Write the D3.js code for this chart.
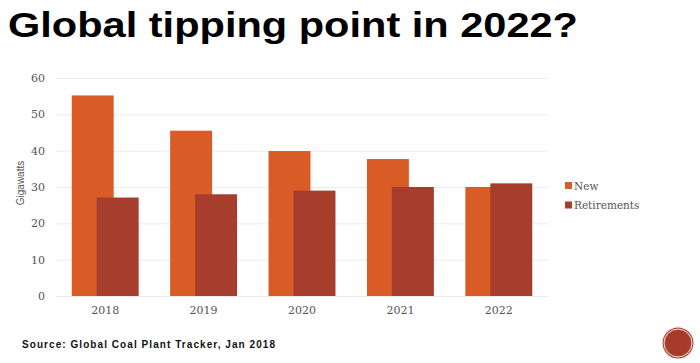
<!DOCTYPE html>
<html>
<head>
<meta charset="utf-8">
<script src="https://cdn.jsdelivr.net/npm/d3@7"></script>
<style>
  body { margin: 0; background: #fff; }
  svg { display: block; }
</style>
</head>
<body>
<svg id="chart" width="700" height="363"></svg>
<script>
var years = ["2018", "2019", "2020", "2021", "2022"];
var newGW = [55.2, 45.5, 39.9, 37.7, 30];
var retiredGW = [27.1, 28, 29, 30, 31];
var seriesNames = ["New", "Retirements"];
var seriesColors = ["#d95c27", "#a63d2d"];
var yTicks = [0, 10, 20, 30, 40, 50, 60];

var svg = d3.select("#chart"),
  margin = { top: 78, right: 152, bottom: 67, left: 56 },
  width = +svg.attr("width") - margin.left - margin.right,
  height = +svg.attr("height") - margin.top - margin.bottom;

var x0 = d3.scaleBand().domain(years).range([0, width]).paddingInner(0.32).paddingOuter(0.16),
  y = d3.scaleLinear().domain([0, 60]).range([height, 0]);

var barW = x0.bandwidth() * 42 / 67;

// title
var title = svg.append("text")
  .attr("x", 8)
  .attr("y", 37)
  .attr("font-family", "'Liberation Sans', Arial, sans-serif")
  .attr("font-weight", "bold")
  .attr("font-size", 35)
  .attr("fill", "#000")
  .text("Global tipping point in 2022?");
title.attr("textLength", 570).attr("lengthAdjust", "spacingAndGlyphs");

var g = svg.append("g")
  .attr("transform", "translate(" + margin.left + "," + margin.top + ")");

// grid
g.append("g")
  .call(d3.axisLeft(y).tickValues(yTicks).tickSize(-width).tickFormat(""))
  .call(function (s) { s.select(".domain").remove(); })
  .selectAll("line").attr("stroke", "#ececec");

// y labels
g.append("g")
  .call(d3.axisLeft(y).tickValues(yTicks).tickSize(0).tickPadding(11))
  .call(function (s) { s.select(".domain").remove(); })
  .selectAll("text")
  .attr("font-family", "'DejaVu Serif', serif")
  .attr("font-size", 11)
  .attr("fill", "#555");

g.append("text")
  .attr("transform", "translate(" + (-32) + "," + (height / 2 - 4) + ") rotate(-90)")
  .attr("text-anchor", "middle")
  .attr("font-family", "'Liberation Sans', Arial, sans-serif")
  .attr("font-size", 10)
  .attr("fill", "#555")
  .text("Gigawatts");

// x labels
g.append("g")
  .attr("transform", "translate(0," + height + ")")
  .call(d3.axisBottom(x0).tickSize(0).tickPadding(10))
  .call(function (s) { s.select(".domain").remove(); })
  .selectAll("text")
  .attr("font-family", "'DejaVu Serif', serif")
  .attr("font-size", 11)
  .attr("fill", "#555");

// bars
g.selectAll(".bar-new")
  .data(years)
  .enter().append("rect")
  .attr("class", "bar-new")
  .attr("x", function (d) { return x0(d); })
  .attr("y", function (d, i) { return y(newGW[i]); })
  .attr("width", barW)
  .attr("height", function (d, i) { return height - y(newGW[i]); })
  .attr("fill", seriesColors[0]);

g.selectAll(".bar-ret")
  .data(years)
  .enter().append("rect")
  .attr("class", "bar-ret")
  .attr("x", function (d) { return x0(d) + x0.bandwidth() - barW; })
  .attr("y", function (d, i) { return y(retiredGW[i]); })
  .attr("width", barW)
  .attr("height", function (d, i) { return height - y(retiredGW[i]); })
  .attr("fill", seriesColors[1]);

// legend
var legend = svg.append("g").attr("transform", "translate(565,182)");
seriesNames.forEach(function (name, i) {
  var row = legend.append("g").attr("transform", "translate(0," + (i * 19.5) + ")");
  row.append("rect").attr("width", 7).attr("height", 7).attr("fill", seriesColors[i]);
  row.append("text")
    .attr("x", 9)
    .attr("y", 7.5)
    .attr("font-family", "'DejaVu Serif', serif")
    .attr("font-size", 10.5)
    .attr("fill", "#555")
    .text(name);
});

// source
svg.append("text")
  .attr("x", 22)
  .attr("y", 348)
  .attr("font-family", "'Liberation Sans', Arial, sans-serif")
  .attr("font-weight", "bold")
  .attr("font-size", 10)
  .attr("letter-spacing", 1)
  .attr("fill", "#111")
  .attr("textLength", 254)
  .text("Source: Global Coal Plant Tracker, Jan 2018");

// logo dot
svg.append("circle").attr("cx", 678).attr("cy", 343).attr("r", 15.5).attr("fill", "#b04a3a");
svg.append("circle").attr("cx", 678).attr("cy", 343).attr("r", 14).attr("fill", "none").attr("stroke", "#f0d8d0").attr("stroke-width", 1);
svg.append("circle").attr("cx", 678).attr("cy", 343).attr("r", 12.5).attr("fill", "#a83a2a");
</script>
</body>
</html>
